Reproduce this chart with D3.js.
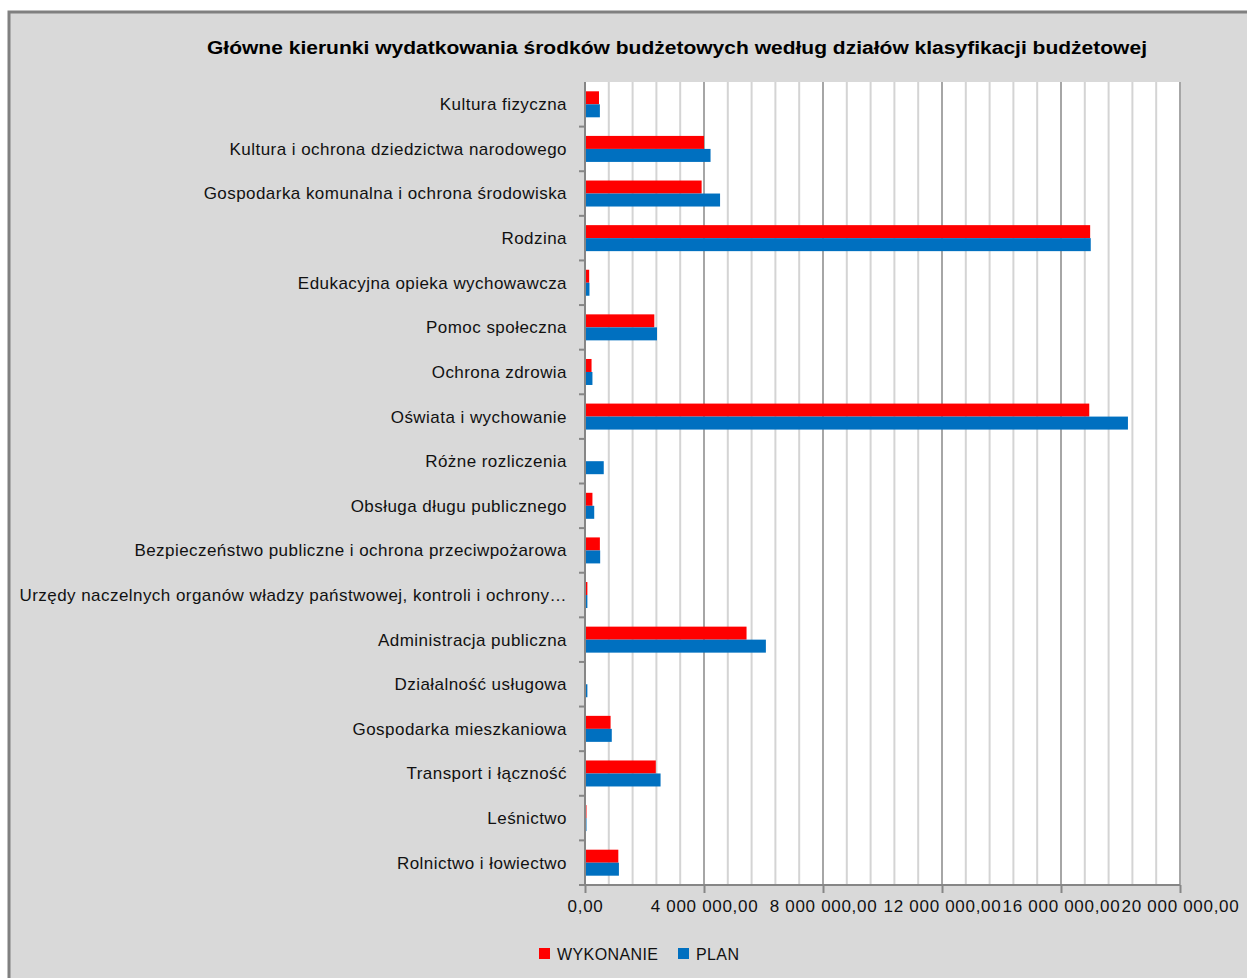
<!DOCTYPE html>
<html>
<head>
<meta charset="utf-8">
<script src="https://cdn.jsdelivr.net/npm/d3@7"></script>
<style>
  body { margin: 0; background: #fff; }
  svg { display: block; font-family: 'Liberation Sans', Arial, sans-serif; }
</style>
</head>
<body>
<div id="chart"></div>
<script>
const categories = [
  'Kultura fizyczna',
  'Kultura i ochrona dziedzictwa narodowego',
  'Gospodarka komunalna i ochrona środowiska',
  'Rodzina',
  'Edukacyjna opieka wychowawcza',
  'Pomoc społeczna',
  'Ochrona zdrowia',
  'Oświata i wychowanie',
  'Różne rozliczenia',
  'Obsługa długu publicznego',
  'Bezpieczeństwo publiczne i ochrona przeciwpożarowa',
  'Urzędy naczelnych organów władzy państwowej, kontroli i ochrony…',
  'Administracja publiczna',
  'Działalność usługowa',
  'Gospodarka mieszkaniowa',
  'Transport i łączność',
  'Leśnictwo',
  'Rolnictwo i łowiectwo'
]

const wykonanie = [470000, 4000000, 3920000, 16980000, 140000, 2330000, 220000, 16950000, 0, 250000, 500000, 80000, 5430000, 0, 860000, 2380000, 50000, 1120000]
const plan = [500000, 4220000, 4540000, 17000000, 150000, 2420000, 250000, 18250000, 630000, 310000, 510000, 80000, 6080000, 80000, 900000, 2540000, 50000, 1140000]

const tickValues = [0, 4000000, 8000000, 12000000, 16000000, 20000000]
const series = [
  { name: 'WYKONANIE', values: wykonanie, color: '#ff0000' },
  { name: 'PLAN', values: plan, color: '#0070c0' }
]

const W = 1247, H = 978
const plot = { left: 585, right: 1180, top: 82, bottom: 885 }

const svg = d3.select('#chart')
  .append('svg')
  .attr('width', W)
  .attr('height', H)

// chart frame
svg.append('rect')
  .attr('x', 9).attr('y', 12)
  .attr('width', W + 10).attr('height', H + 10)
  .attr('fill', '#d9d9d9')
  .attr('stroke', '#808080')
  .attr('stroke-width', 3)

svg.append('text')
  .attr('x', 677).attr('y', 54)
  .attr('text-anchor', 'middle')
  .attr('font-weight', 'bold')
  .attr('font-size', 18)
  .attr('textLength', 940)
  .attr('lengthAdjust', 'spacingAndGlyphs')
  .attr('fill', '#000')
  .text('Główne kierunki wydatkowania środków budżetowych według działów klasyfikacji budżetowej')

const x = d3.scaleLinear()
  .domain([0, 20000000])
  .range([plot.left, plot.right])

const y = d3.scaleBand()
  .domain(categories)
  .range([plot.top, plot.bottom])

const sub = d3.scaleBand()
  .domain(series.map(s => s.name))
  .range([0, 26])

svg.append('rect')
  .attr('x', plot.left).attr('y', plot.top)
  .attr('width', plot.right - plot.left)
  .attr('height', plot.bottom - plot.top)
  .attr('fill', '#fff')

// gridlines, minor every 800 000 and major every 4 000 000
const grid = d3.range(800000, 20000001, 800000)
svg.append('g')
  .selectAll('line')
  .data(grid)
  .enter()
  .append('line')
    .attr('x1', d => x(d)).attr('x2', d => x(d))
    .attr('y1', plot.top).attr('y2', plot.bottom)
    .attr('stroke', d => d % 4000000 === 0 ? '#a6a6a6' : '#d4d4d4')
    .attr('stroke-width', 2)

const fmt = v => d3.format(',.2f')(v).replace(/,/g, ' ').replace('.', ',')

// bars
const groups = svg.append('g')
  .selectAll('g')
  .data(series)
  .enter()
  .append('g')
  .attr('fill', d => d.color)

groups.selectAll('rect')
  .data(s => s.values.map((v, i) => ({ v, cat: categories[i], name: s.name })))
  .enter()
  .append('rect')
    .attr('x', x(0))
    .attr('y', d => y(d.cat) + y.bandwidth() / 2 - 13 + sub(d.name))
    .attr('width', d => x(d.v) - x(0))
    .attr('height', sub.bandwidth())

// y axis
const yAxis = svg.append('g')
  .attr('transform', `translate(${plot.left},0)`)
yAxis.append('line')
  .attr('x1', 0).attr('x2', 0)
  .attr('y1', plot.top).attr('y2', plot.bottom)
  .attr('stroke', '#868686').attr('stroke-width', 2)
yAxis.selectAll('.tick')
  .data(categories.slice(1).concat([null]))
  .enter()
  .append('line')
    .attr('x1', -6).attr('x2', 0)
    .attr('y1', (d, i) => y(categories[i]) + y.bandwidth())
    .attr('y2', (d, i) => y(categories[i]) + y.bandwidth())
    .attr('stroke', '#868686').attr('stroke-width', 2)
yAxis.selectAll('text')
  .data(categories)
  .enter()
  .append('text')
    .attr('x', -18)
    .attr('y', d => y(d) + y.bandwidth() / 2)
    .attr('dy', '0.35em')
    .attr('text-anchor', 'end')
    .attr('font-size', 17)
    .attr('letter-spacing', 0.45)
    .attr('fill', '#111')
    .text(d => d)

// x axis
const xAxis = svg.append('g')
  .attr('transform', `translate(0,${plot.bottom})`)
  .call(d3.axisBottom(x).tickValues(tickValues).tickFormat(fmt).tickSize(8))
xAxis.select('.domain')
  .attr('stroke', '#868686').attr('stroke-width', 2)
  .attr('d', `M${plot.left},0H${plot.right}`)
xAxis.selectAll('.tick line').attr('stroke', '#868686').attr('stroke-width', 2)
xAxis.selectAll('.tick text')
  .attr('font-size', 17)
  .attr('letter-spacing', 0.7)
  .attr('font-family', "'Liberation Sans', Arial, sans-serif")
  .attr('fill', '#111')
  .attr('y', 21)
  .attr('dy', '0.35em')

// legend
const legend = svg.append('g')
  .selectAll('g')
  .data(series)
  .enter()
  .append('g')
  .attr('transform', (d, i) => `translate(${i === 0 ? 539 : 678},948)`)
legend.append('rect')
  .attr('width', 11).attr('height', 11)
  .attr('fill', d => d.color)
legend.append('text')
  .attr('x', 18).attr('y', 6)
  .attr('dy', '0.35em')
  .attr('font-size', 16)
  .attr('letter-spacing', 0.4)
  .attr('fill', '#111')
  .text(d => d.name)
</script>
</body>
</html>
